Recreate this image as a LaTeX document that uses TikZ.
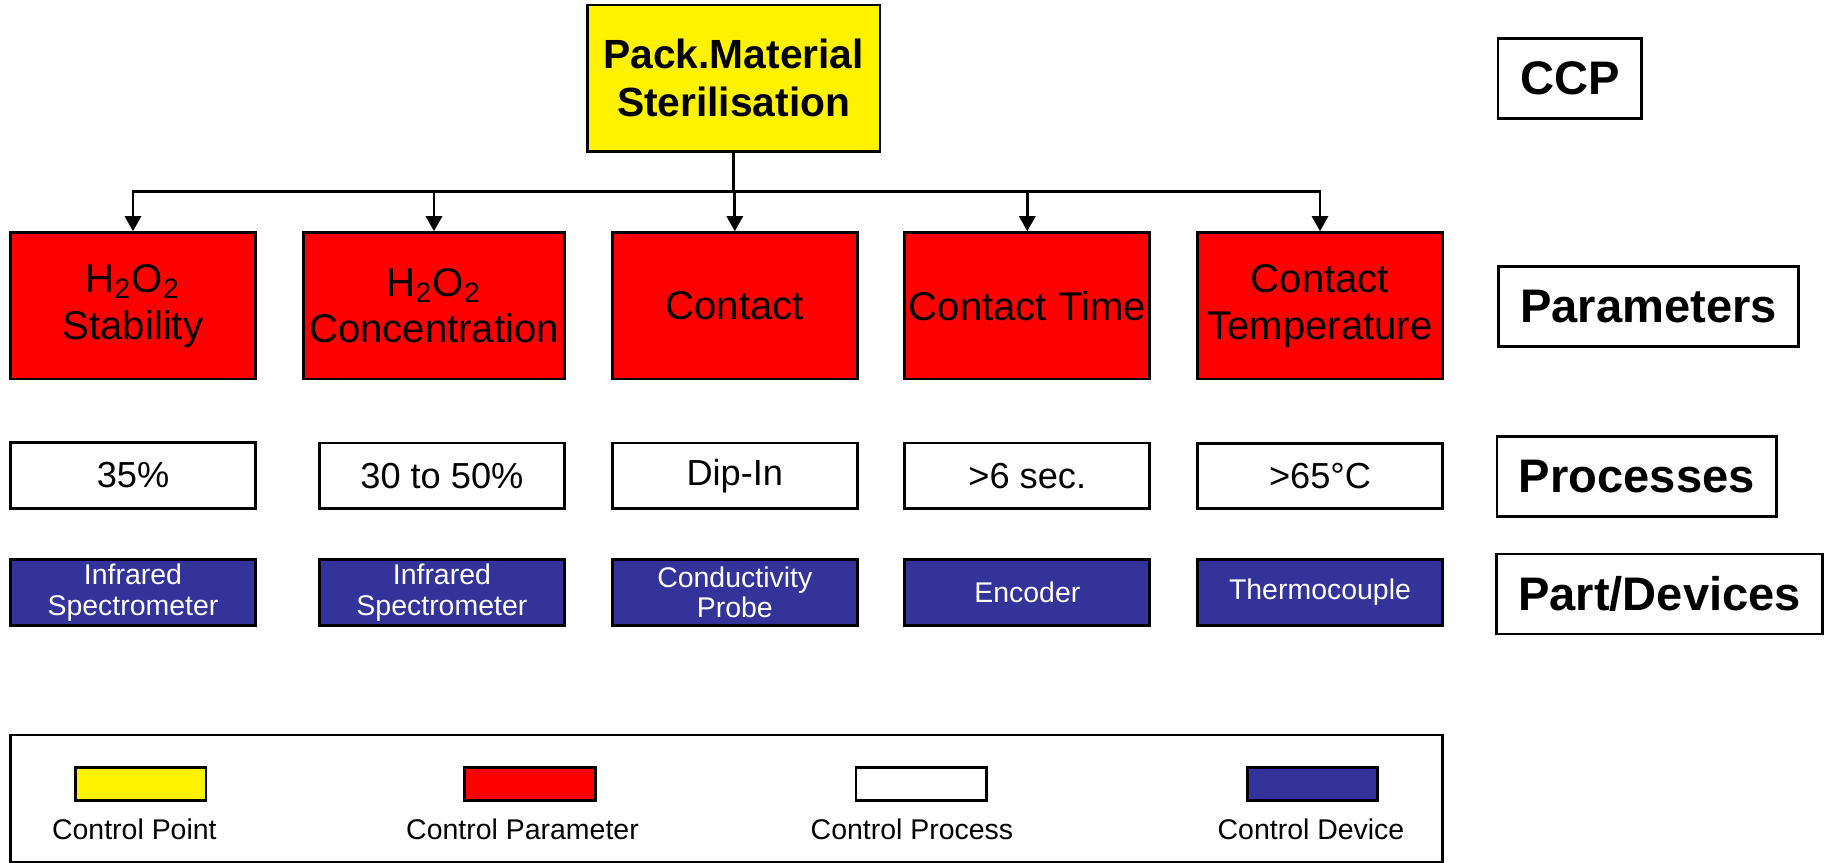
\documentclass[tikz,border=0pt]{standalone}
\usepackage{fontspec}
\setmainfont{Liberation Sans}
\usetikzlibrary{arrows.meta,positioning}
\definecolor{ctrlblue}{RGB}{51,51,153}
\tikzset{
	box/.style={draw, line width=0.8pt, inner sep=0pt, align=center, minimum width=2.45cm},
	ccpbox/.style={box, fill=yellow, minimum width=2.925cm, minimum height=1.467cm, font=\fontsize{11.6}{13.7}\selectfont\bfseries},
	parbox/.style={box, fill=red, minimum height=1.463cm, font=\fontsize{11.4}{13.3}\selectfont},
	procbox/.style={box, fill=white, minimum height=0.655cm, font=\fontsize{10.3}{12}\selectfont},
	devbox/.style={box, fill=ctrlblue, text=white, minimum height=0.66cm, font=\fontsize{8.1}{8.7}\selectfont},
	rowlabel/.style={draw, line width=0.8pt, fill=white, inner xsep=0.22cm, inner ysep=0pt, minimum height=0.8cm, font=\fontsize{13.4}{15}\selectfont\bfseries},
	keybox/.style={draw, line width=0.8pt, inner sep=0pt, minimum width=1.305cm, minimum height=0.326cm},
	keylabel/.style={font=\fontsize{8.1}{9}\selectfont, inner sep=0pt},
	diredge/.style={->,>={Triangle[width=1.6mm,length=1.5mm]}, color=black, line width=0.8pt}
}
\begin{document}
\begin{tikzpicture}
		\useasboundingbox (0, 0) rectangle (18.24, -8.63);

		\node [ccpbox] (0) at (7.337, -0.783) {Pack.Material\\Sterilisation};

		\node [parbox] (1) at (1.33, -3.058) {H\textsubscript{2}O\textsubscript{2}\\Stability};
		\node [parbox, minimum width=2.606cm] (2) at (4.34, -3.058) {H\textsubscript{2}O\textsubscript{2}\\Concentration};
		\node [parbox] (3) at (7.348, -3.058) {Contact};
		\node [parbox] (4) at (10.273, -3.058) {Contact Time};
		\node [parbox] (5) at (13.2, -3.058) {Contact\\Temperature};

		\node [procbox] (6) at (1.33, -4.755) {35\%};
		\node [procbox] (7) at (4.419, -4.757) {30 to 50\%};
		\node [procbox] (8) at (7.348, -4.757) {Dip-In};
		\node [procbox] (9) at (10.273, -4.757) {>6 sec.};
		\node [procbox] (10) at (13.2, -4.76) {>65°C};

		\node [devbox] (11) at (1.33, -5.925) {Infrared\\Spectrometer};
		\node [devbox] (12) at (4.419, -5.925) {Infrared\\Spectrometer};
		\node [devbox] (13) at (7.348, -5.925) {Conductivity\\Probe};
		\node [devbox] (14) at (10.273, -5.925) {Encoder};
		\node [devbox] (15) at (13.2, -5.925) {Thermocouple};

		\node [rowlabel] (16) at (15.697, -0.787) {CCP};
		\node [rowlabel] (17) at (16.485, -3.067) {Parameters};
		\node [rowlabel] (18) at (16.368, -4.767) {Processes};
		\node [rowlabel] (19) at (16.595, -5.94) {Part/Devices};

		% legend
		\node [draw, line width=0.8pt, minimum width=14.315cm, minimum height=1.27cm] (20) at (7.2635, -7.985) {};
		\node [keybox, fill=yellow] (21) at (1.408, -7.84) {};
		\node [keybox, fill=red] (22) at (5.3, -7.84) {};
		\node [keybox, fill=white] (23) at (9.213, -7.84) {};
		\node [keybox, fill=ctrlblue] (24) at (13.125, -7.84) {};
		\node [keylabel] (25) at (1.344, -8.29) {Control Point};
		\node [keylabel] (26) at (5.225, -8.29) {Control Parameter};
		\node [keylabel] (27) at (9.12, -8.29) {Control Process};
		\node [keylabel] (28) at (13.11, -8.29) {Control Device};

		\coordinate (bar) at (7.337, -1.917);
		\draw [diredge] (0) -- (bar) -| (1);
		\draw [diredge] (0) -- (bar) -| (2);
		\draw [diredge] (0) -- (bar) -| (3);
		\draw [diredge] (0) -- (bar) -| (4);
		\draw [diredge] (0) -- (bar) -| (5);
\end{tikzpicture}
\end{document}
